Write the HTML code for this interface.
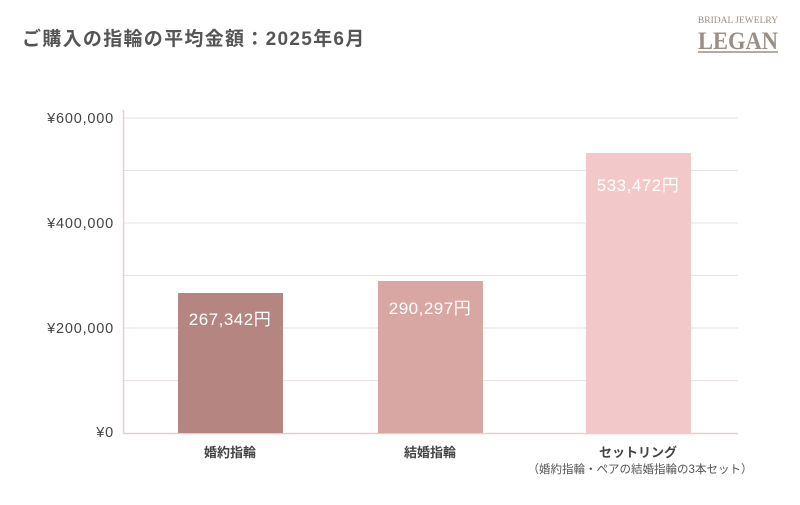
<!DOCTYPE html>
<html><head><meta charset="utf-8"><style>
body{margin:0;width:800px;height:500px;background:#fff;overflow:hidden;font-family:"Liberation Sans","Noto Sans CJK JP",sans-serif}
</style></head><body>
<svg width="800" height="500" xmlns="http://www.w3.org/2000/svg" font-family="Liberation Sans, Noto Sans CJK JP, sans-serif">
<text x="22" y="45" font-size="19" font-weight="bold" fill="#555" letter-spacing="1.3">ご購入の指輪の平均金額：2025年6月</text>
<text x="738" y="23" font-size="9.5" fill="#9a8f85" text-anchor="middle" font-family="Liberation Serif, serif">BRIDAL JEWELRY</text>
<text x="738" y="49" font-size="25" font-weight="bold" fill="#9a8f85" text-anchor="middle" font-family="Liberation Serif, serif" textLength="80" lengthAdjust="spacingAndGlyphs">LEGAN</text>
<line x1="698" y1="52" x2="778" y2="52" stroke="#9a8f85" stroke-width="1.5"/>
<g stroke="#e8e2e2" stroke-width="1">
<line x1="123" y1="118" x2="738" y2="118"/><line x1="123" y1="170.5" x2="738" y2="170.5"/>
<line x1="123" y1="223" x2="738" y2="223"/><line x1="123" y1="275.5" x2="738" y2="275.5"/>
<line x1="123" y1="328" x2="738" y2="328"/><line x1="123" y1="380.5" x2="738" y2="380.5"/>
</g>
<line x1="123" y1="433.5" x2="738" y2="433.5" stroke="#ddd0ce" stroke-width="1.5"/>
<line x1="123.5" y1="110" x2="123.5" y2="434" stroke="#e3d3d0" stroke-width="1.5"/>
<g font-size="14.5" fill="#444" text-anchor="end" letter-spacing="0.8">
<text x="114" y="123">¥600,000</text><text x="114" y="228">¥400,000</text>
<text x="114" y="333">¥200,000</text><text x="114" y="437">¥0</text>
</g>
<rect x="178" y="293" width="105" height="140" fill="#b58582"/>
<rect x="378" y="281" width="105" height="152" fill="#d8a7a4"/>
<rect x="586" y="153" width="105" height="280" fill="#f2c9c8"/>
<g font-size="17" fill="#fff" text-anchor="middle" letter-spacing="0.5">
<text x="230" y="325">267,342円</text><text x="430" y="314">290,297円</text><text x="638" y="191">533,472円</text>
</g>
<g font-size="13" font-weight="bold" fill="#444" text-anchor="middle">
<text x="230" y="457">婚約指輪</text><text x="430" y="457">結婚指輪</text><text x="638" y="457">セットリング</text>
</g>
<text x="640" y="473" font-size="11.5" fill="#555" text-anchor="middle">（婚約指輪・ペアの結婚指輪の3本セット）</text>
</svg>
</body></html>
